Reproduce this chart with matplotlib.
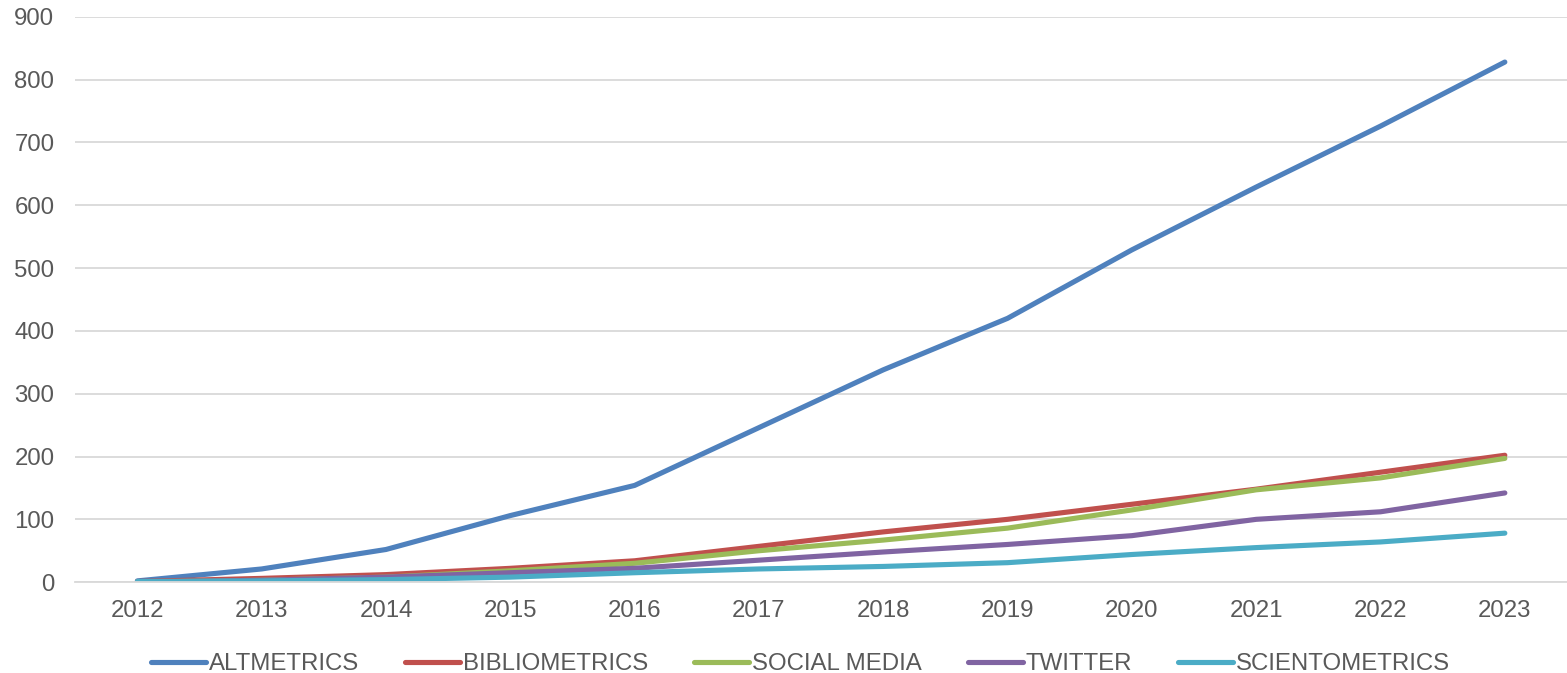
import matplotlib.pyplot as plt

years = [2012, 2013, 2014, 2015, 2016, 2017, 2018, 2019, 2020, 2021, 2022, 2023]
altmetrics = [2, 21, 52, 106, 154, 246, 338, 420, 529, 629, 726, 828]
bibliometrics = [1, 6, 12, 22, 34, 57, 80, 100, 124, 148, 175, 202]
social_media = [0, 3, 8, 18, 30, 50, 67, 86, 115, 147, 166, 197]
twitter = [0, 3, 8, 15, 22, 35, 48, 60, 74, 100, 112, 142]
scientometrics = [1, 2, 4, 8, 15, 21, 25, 31, 44, 55, 64, 78]

series = [
    ("ALTMETRICS", altmetrics, "#4F81BD"),
    ("BIBLIOMETRICS", bibliometrics, "#C0504D"),
    ("SOCIAL MEDIA", social_media, "#9BBB59"),
    ("TWITTER", twitter, "#8064A2"),
    ("SCIENTOMETRICS", scientometrics, "#4BACC6"),
]

plt.rcParams["font.family"] = ["Liberation Sans", "DejaVu Sans"]
text_color = "#595959"
font_size = 17.3

fig = plt.figure(figsize=(15.67, 6.73), dpi=100)
ax = fig.add_axes([0.048, 0.135, 0.952, 0.84])

for name, values, color in series:
    ax.plot(years, values, color=color, linewidth=3.7, label=name,
            solid_capstyle="round", solid_joinstyle="round")

ax.set_xlim(2011.5, 2023.5)
ax.set_ylim(0, 900)
ax.set_xticks(years)
ax.set_yticks(range(0, 901, 100))
ax.tick_params(axis="both", length=0, labelsize=font_size, colors=text_color)
ax.tick_params(axis="x", pad=13)
ax.tick_params(axis="y", pad=15)
ax.grid(axis="y", color="#D9D9D9", linewidth=1.3)
ax.set_axisbelow(True)
for side in ["top", "right", "left"]:
    ax.spines[side].set_visible(False)
ax.spines["bottom"].set_color("#D9D9D9")
ax.spines["bottom"].set_linewidth(1.3)

leg = fig.legend(loc="lower center", bbox_to_anchor=(0.511, -0.035), ncol=5,
                 frameon=False, fontsize=font_size, handlelength=2.3,
                 handletextpad=0.12, columnspacing=1.9)
for t in leg.get_texts():
    t.set_color(text_color)

fig.savefig("out.png", dpi=100)
